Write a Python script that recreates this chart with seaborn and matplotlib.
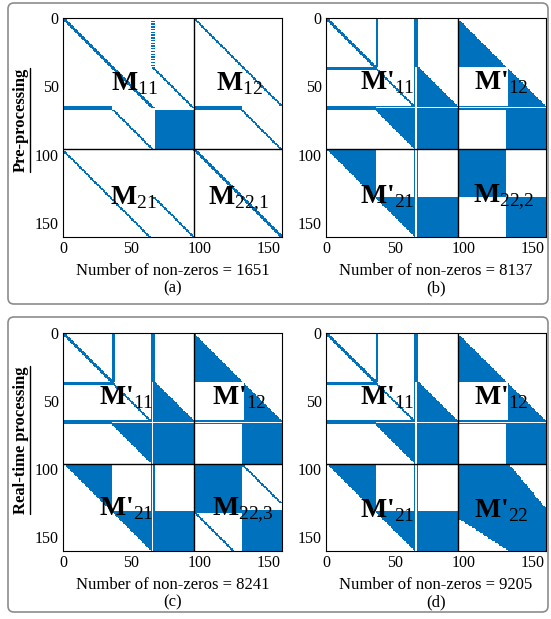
#!/usr/bin/env python3
# Sparsity patterns of the augmented matrix, pre-processing vs real-time stages

import numpy as np
import seaborn as sns
import matplotlib.pyplot as plt
from matplotlib.colors import ListedColormap
from matplotlib.patches import FancyBboxPatch
from matplotlib.lines import Line2D
from matplotlib.path import Path
from matplotlib.transforms import IdentityTransform

N = 160
TICKS = [0, 50, 100, 150]
SPLIT = 96
panel_tags = ["(a)", "(b)", "(c)", "(d)"]
nnz_counts = [1651, 8137, 8241, 9205]
group_titles = ["Pre-processing", "Real-time processing"]

block_labels = [
    ["M$_\\mathrm{11}$", "M$_\\mathrm{12}$", "M$_\\mathrm{21}$", "M$_\\mathrm{22{,}1}$"],
    ["M'$_\\mathrm{11}$", "M'$_\\mathrm{12}$", "M'$_\\mathrm{21}$", "M$_\\mathrm{22{,}2}$"],
    ["M'$_\\mathrm{11}$", "M'$_\\mathrm{12}$", "M'$_\\mathrm{21}$", "M$_\\mathrm{22{,}3}$"],
    ["M'$_\\mathrm{11}$", "M'$_\\mathrm{12}$", "M'$_\\mathrm{21}$", "M'$_\\mathrm{22}$"],
]

# --- pattern of (a) ---
# diagonal runs: (row, col, length, thickness)
diags_a = [(0, 0, 66, 3), (36, 66, 30, 2), (67, 37, 29, 2), (0, 96, 64, 2),
           (67, 131, 29, 2), (96, 0, 64, 2), (131, 67, 29, 2), (96, 96, 64, 3)]
# polygons as (col, row) corners
polys_a = [[(0, 64), (36, 64), (36, 67), (0, 67)],
           [(96, 64), (131, 64), (131, 67), (96, 67)],
           [(67, 67), (96, 67), (96, 96), (67, 96)]]
dotted_a = [(0, 36, 64, 67)]  # row0, row1, col0, col1 on every other row
dots_a = [(0, 36), (36, 0)]

# --- shared pattern of (b)-(d) ---
diags_p = [(0, 0, 36, 3), (36, 36, 28, 2)]
polys_p = [
    [(36, 0), (38, 0), (38, 36), (36, 36)],
    [(0, 36), (36, 36), (36, 38), (0, 38)],
    [(0, 64), (160, 64), (160, 67), (0, 67)],
    [(64, 0), (67, 0), (67, 160), (64, 160)],
    [(67, 36), (67, 64), (96, 64)],
    [(36, 67), (64, 67), (64, 96)],
    [(67, 67), (96, 67), (96, 96), (67, 96)],
    [(96, 0), (96, 36), (132, 36)],
    [(132, 36), (132, 64), (160, 64)],
    [(131, 67), (160, 67), (160, 96), (131, 96)],
    [(0, 96), (36, 96), (36, 131)],
    [(36, 131), (64, 131), (64, 160)],
    [(67, 131), (96, 131), (96, 160), (67, 160)],
]
gaps_p = [(65, 66, 36, 160), (36, 160, 65, 66)]  # white strips

# --- lower-right block per panel ---
polys_22 = {
    "b": [[(96, 96), (131, 96), (131, 131), (96, 131)],
          [(131, 131), (160, 131), (160, 160), (131, 160)]],
    "c": [[(96, 96), (131, 96), (131, 131), (96, 131)],
          [(131, 130), (160, 130), (160, 160), (131, 160)],
          [(96, 131), (131, 131), (131, 132), (96, 132)]],
    "d": [[(96, 96), (133, 96), (160, 129), (160, 160), (133, 160), (96, 136)]],
}
diags_22 = {"b": [], "c": [(96, 131, 29, 2), (132, 97, 28, 2)], "d": []}

# block label anchors (col, row)
label_pos = [
    [(35, 53), (112, 53), (34, 136), (106, 136)],
    [(25, 52), (108, 52), (25, 135), (107, 135)],
    [(26, 52), (109, 52), (26, 134), (109, 134)],
    [(25, 52), (108, 52), (25, 135), (108, 135)],
]


def build(diags, polys, dotted=(), dots=(), gaps=()):
    m = np.zeros((N, N))
    cc, rr = np.meshgrid(np.arange(N) + 0.5, np.arange(N) + 0.5)
    pts = np.column_stack([cc.ravel(), rr.ravel()])
    for poly in polys:
        inside = Path(poly).contains_points(pts).reshape(N, N)
        m[inside] = 1
    for r0, c0, length, w in diags:
        for k in range(length):
            for j in range(w):
                r, c = r0 + k, c0 + k + j - w // 2
                if 0 <= r < N and 0 <= c < N:
                    m[r, c] = 1
    for r0, r1, c0, c1 in dotted:
        m[r0:r1:2, c0:c1] = 1
    for r, c in dots:
        m[r, c] = 1
    for r0, r1, c0, c1 in gaps:
        m[r0:r1, c0:c1] = 0
    return m


mats = [
    build(diags_a, polys_a, dotted_a, dots_a),
    build(diags_p + diags_22["b"], polys_p + polys_22["b"], gaps=gaps_p),
    build(diags_p + diags_22["c"], polys_p + polys_22["c"], gaps=gaps_p),
    build(diags_p + diags_22["d"], polys_p + polys_22["d"], gaps=gaps_p),
]

sns.set_style("ticks")
plt.rcParams.update({
    'font.family': ['Liberation Serif', 'DejaVu Serif'],
    'mathtext.fontset': 'custom', 'mathtext.rm': 'Liberation Serif',
    'text.color': 'black', 'axes.labelcolor': 'black',
    'xtick.color': 'black', 'ytick.color': 'black',
})

W, H = 551, 619
fig = plt.figure(figsize=(W / 100, H / 100), dpi=100)

# axes boxes in pixel coords: left, top, width, height
boxes = [(63, 18, 219, 219), (326, 18, 220, 219), (63, 333, 219, 218), (326, 333, 220, 218)]
cmap = ListedColormap(["white", "#0072BD"])

for i, (mat, (x, y, w, h)) in enumerate(zip(mats, boxes)):
    ax = fig.add_axes([x / W, 1 - (y + h) / H, w / W, h / H])
    sns.heatmap(mat, ax=ax, cmap=cmap, vmin=0, vmax=1, cbar=False,
                xticklabels=False, yticklabels=False, rasterized=True)
    for s in ax.spines.values():
        s.set_visible(True)
        s.set_color("black")
        s.set_linewidth(0.8)
    ax.axvline(SPLIT, color="black", lw=1.0)
    ax.axhline(SPLIT, color="black", lw=1.0)
    ax.set_xticks(TICKS)
    ax.set_xticklabels([str(t) for t in TICKS], rotation=0)
    ax.set_yticks(TICKS)
    ax.set_yticklabels([str(t) for t in TICKS], rotation=0)
    ax.tick_params(direction="in", top=True, right=True, length=3.5, width=0.7,
                   labelsize=11.5, pad=3, colors="black")
    ax.set_xlim(0, N)
    ax.set_ylim(N, 0)
    ax.set_xlabel(f"Number of non-zeros = {nnz_counts[i]}\n{panel_tags[i]}",
                  fontsize=12, linespacing=1.15, labelpad=4, color="black")
    for lab, (cx, cy) in zip(block_labels[i], label_pos[i]):
        ax.text(cx, cy, lab, fontsize=20, fontweight="bold", ha="left", va="baseline",
                color="black")

# rounded group frames (pixel coords, origin at bottom)
for y0, y1 in [(3, 304), (317, 612)]:
    fig.add_artist(FancyBboxPatch((8, H - y1), 540, y1 - y0,
                                  boxstyle="round,pad=0,rounding_size=6",
                                  transform=IdentityTransform(), fill=False,
                                  edgecolor="#8c8c8c", lw=1.2))

titles = []
for t, yc in zip(group_titles, [120, 440]):
    titles.append(fig.text(21 / W, 1 - yc / H, t, rotation=90, ha="center", va="center",
                           fontsize=12, fontweight="bold", color="black"))

fig.canvas.draw()
for t in titles:
    bb = t.get_window_extent()
    fig.add_artist(Line2D([30, 30], [bb.y0, bb.y1], color="black", lw=1.0,
                          transform=IdentityTransform()))

plt.savefig("out.png", dpi=100)
